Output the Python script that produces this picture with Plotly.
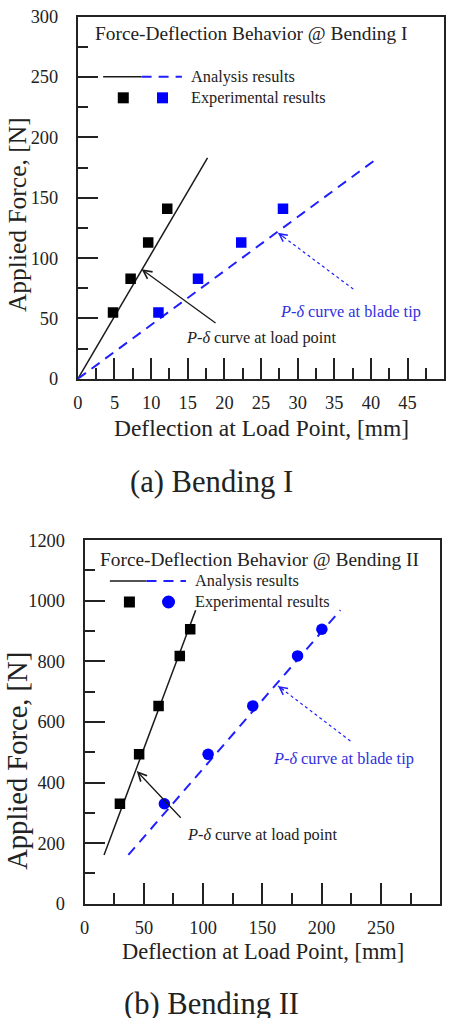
import plotly.graph_objects as go

FONT = "Liberation Serif, 'Times New Roman', Times, serif"
BLACK = "#1a1a1a"
BLUE = "#1f1fff"
BLUE_TXT = "#3030e0"

# ---------------- Bending I data ----------------
b1_exp_load_x = [4.8, 7.2, 9.6, 12.2]
b1_exp_load_y = [55, 83, 113, 141]
b1_exp_tip_x = [11.0, 16.4, 22.3, 28.0]
b1_exp_tip_y = [55, 83, 113, 141]
b1_ana_load_x = [0, 17.7]
b1_ana_load_y = [0, 183]
b1_ana_tip_x = [0, 40.5]
b1_ana_tip_y = [0, 181]

# ---------------- Bending II data ----------------
b2_exp_load_x = [29.8, 46.0, 62.4, 80.3, 89.1]
b2_exp_load_y = [330, 493, 653, 818, 906]
b2_exp_tip_x = [67.3, 104.2, 141.9, 179.7, 200.2]
b2_exp_tip_y = [330, 493, 653, 818, 906]
b2_ana_load_x = [16.4, 93.7]
b2_ana_load_y = [161, 969]
b2_ana_tip_x = [36.9, 215.8]
b2_ana_tip_y = [161, 969]

# annotation arrows: (head_x, head_y, tail_x, tail_y)
b1_load_arrow = (8.7, 90.8, 19.0, 45.3)
b1_tip_arrow = (27.3, 121.0, 37.6, 74.3)
b2_load_arrow = (44.0, 438.0, 82.3, 279.0)
b2_tip_arrow = (163.2, 719.0, 224.3, 537.0)
# annotation text anchors (left x, middle y)
b1_load_text = (14.5, 34.0)
b1_tip_text = (27.3, 56.0)
b2_load_text = (84.7, 227.0)
b2_tip_text = (157.6, 480.0)

titles = ["Force-Deflection Behavior @ Bending I", "Force-Deflection Behavior @ Bending II"]
captions = ["(a) Bending I", "(b) Bending II"]
xlabel = "Deflection at Load Point, [mm]"
ylabel = "Applied Force, [N]"

W = 452.0
H = 1018.0
# observed page -> screenshot mapping: x' = 0.98*x + 7.8, y' = 0.98*y + 9.3
SC, OX, OY = 0.98, 7.8, 9.3
FS = 1.02  # font compensation for the shrink

def px(xr):
    return min((xr - OX) / SC, W - 0.5) / W

def py(yr):
    return 1 - ((yr - OY) / SC) / H

fig = go.Figure()

def add_lines(xa, ya, lx, ly, tx, ty):
    fig.add_trace(go.Scatter(x=lx, y=ly, mode="lines", xaxis=xa, yaxis=ya,
                             line=dict(color=BLACK, width=1.5), showlegend=False))
    fig.add_trace(go.Scatter(x=tx, y=ty, mode="lines", xaxis=xa, yaxis=ya,
                             line=dict(color=BLUE, width=2, dash="10px,7px"), showlegend=False))

def add_markers(xa, ya, x, y, color, symbol, size):
    fig.add_trace(go.Scatter(x=x, y=y, mode="markers", xaxis=xa, yaxis=ya,
                             marker=dict(color=color, symbol=symbol, size=size, line=dict(width=0)),
                             showlegend=False))

add_lines("x", "y", b1_ana_load_x, b1_ana_load_y, b1_ana_tip_x, b1_ana_tip_y)
add_markers("x", "y", b1_exp_load_x, b1_exp_load_y, "black", "square", 10.5)
add_markers("x", "y", b1_exp_tip_x, b1_exp_tip_y, "#0000ff", "square", 10.5)

add_lines("x2", "y2", b2_ana_load_x, b2_ana_load_y, b2_ana_tip_x, b2_ana_tip_y)
add_markers("x2", "y2", b2_exp_load_x, b2_exp_load_y, "black", "square", 10.5)
add_markers("x2", "y2", b2_exp_tip_x, b2_exp_tip_y, "#0000ff", "circle", 11.5)

def axis(domain, rng, dtick, minor_dtick, standoff):
    return dict(domain=domain, range=rng, dtick=dtick, tick0=0,
                ticks="inside", ticklen=20.5, tickwidth=2, tickcolor="#222",
                minor=dict(dtick=minor_dtick, tick0=0, ticks="inside", ticklen=10.5,
                           tickwidth=1.5, tickcolor="#222"),
                showline=True, linecolor="#222", linewidth=2, mirror=True,
                showgrid=False, zeroline=False,
                tickfont=dict(family=FONT, size=18 * FS, color="#222"),
                ticklabelstandoff=standoff, fixedrange=True)

fig.update_layout(
    width=452, height=1018, autosize=False,
    margin=dict(l=0, r=0, t=0, b=0),
    paper_bgcolor="white", plot_bgcolor="white",
    xaxis=dict(axis([px(80), px(443)], [0, 50], 5, 2.5, 6), anchor="y"),
    yaxis=dict(axis([py(378), py(16)], [0, 300], 50, 25, 14), anchor="x"),
    xaxis2=dict(axis([px(86.7), px(439)], [0, 300], 50, 25, 6), anchor="y2"),
    yaxis2=dict(axis([py(902.7), py(539.3)], [0, 1200], 200, 100, 14), anchor="x2"),
)

ann = []
shapes = []

def arrow(xa, ya, a, color, dotted=False):
    hx, hy, tx, ty = a
    if dotted:
        shapes.append(dict(type="line", xref=xa, yref=ya, x0=tx, y0=ty, x1=hx, y1=hy,
                           line=dict(color=color, width=1.2, dash="dot")))
        sx = hx + (tx - hx) * 0.1
        sy = hy + (ty - hy) * 0.1
        ann.append(dict(x=hx, y=hy, ax=sx, ay=sy, xref=xa, yref=ya, axref=xa, ayref=ya,
                        text="", showarrow=True, arrowhead=5, arrowsize=1.4,
                        arrowwidth=1.1, arrowcolor=color))
    else:
        ann.append(dict(x=hx, y=hy, ax=tx, ay=ty, xref=xa, yref=ya, axref=xa, ayref=ya,
                        text="", showarrow=True, arrowhead=5, arrowsize=1.3,
                        arrowwidth=1.3, arrowcolor=color))

def label(xa, ya, pos, color):
    ann.append(dict(x=pos[0], y=pos[1], xref=xa, yref=ya, xanchor="left", yanchor="middle",
                    showarrow=False,
                    text=("<i>P-δ</i> curve at load point" if color == "#222" else "<i>P-δ</i> curve at blade tip"),
                    font=dict(family=FONT, size=16 * FS, color=color)))

arrow("x", "y", b1_load_arrow, BLACK)
arrow("x", "y", b1_tip_arrow, BLUE, dotted=True)
label("x", "y", b1_load_text, "#222")
label("x", "y", b1_tip_text, BLUE_TXT)
arrow("x2", "y2", b2_load_arrow, BLACK)
arrow("x2", "y2", b2_tip_arrow, BLUE, dotted=True)
label("x2", "y2", b2_load_text, "#222")
label("x2", "y2", b2_tip_text, BLUE_TXT)

# in-plot title and legend (domain coordinates)
legend_cfg = [
    ("x", "y", 0.041, 0.953, 0.834, 0.069, 0.174, 0.284, 0.776, 0.124, 0.231, 0.303, "square"),
    ("x2", "y2", 0.038, 0.948, 0.888, 0.071, 0.174, 0.285, 0.830, 0.126, 0.236, 0.305, "circle"),
]
for i, (xa, ya, tx, ty, ly, lx0, lx1, lx2, sy, sbx, sux, txx, sym) in enumerate(legend_cfg):
    xd, yd = xa + " domain", ya + " domain"
    ann.append(dict(x=tx, y=ty, xref=xd, yref=yd, xanchor="left", yanchor="middle",
                    showarrow=False, text=titles[i], font=dict(family=FONT, size=19 * FS, color="#222")))
    shapes.append(dict(type="line", xref=xd, yref=yd, x0=lx0, x1=lx1, y0=ly, y1=ly,
                       line=dict(color=BLACK, width=1.5)))
    shapes.append(dict(type="line", xref=xd, yref=yd, x0=lx1, x1=lx2, y0=ly, y1=ly,
                       line=dict(color=BLUE, width=2, dash="10px,7px")))
    shapes.append(dict(type="rect", xref=xd, yref=yd, xsizemode="pixel", ysizemode="pixel",
                       xanchor=sbx, yanchor=sy, x0=-5.5, x1=5.5, y0=-5.5, y1=5.5,
                       fillcolor="black", line=dict(width=0)))
    if sym == "square":
        shapes.append(dict(type="rect", xref=xd, yref=yd, xsizemode="pixel", ysizemode="pixel",
                           xanchor=sux, yanchor=sy, x0=-5.5, x1=5.5, y0=-5.5, y1=5.5,
                           fillcolor="#0000ff", line=dict(width=0)))
    else:
        shapes.append(dict(type="circle", xref=xd, yref=yd, xsizemode="pixel", ysizemode="pixel",
                           xanchor=sux, yanchor=sy, x0=-6.5, x1=6.5, y0=-6.5, y1=6.5,
                           fillcolor="#0000ff", line=dict(width=0)))
    ann.append(dict(x=txx, y=ly, xref=xd, yref=yd, xanchor="left", yanchor="middle",
                    showarrow=False, text="Analysis results", font=dict(family=FONT, size=16 * FS, color="#222")))
    ann.append(dict(x=txx, y=sy, xref=xd, yref=yd, xanchor="left", yanchor="middle",
                    showarrow=False, text="Experimental results", font=dict(family=FONT, size=16 * FS, color="#222")))

# axis titles and captions (paper coordinates, given in reference pixels)
paper_text = [
    (261.5, 426.7, xlabel, 23, 0),
    (20, 214, ylabel, 25, -90),
    (263, 950.7, xlabel, 22, 0),
    (20.5, 760, ylabel, 28, -90),
    (212, 481, captions[0], 30, 0),
    (212, 1003, captions[1], 30, 0),
]
for x, y, t, s, ang in paper_text:
    ann.append(dict(x=px(x), y=py(y), xref="paper", yref="paper", xanchor="center", yanchor="middle",
                    showarrow=False, text=t, textangle=ang,
                    font=dict(family=FONT, size=s * FS, color="#222")))

fig.update_layout(annotations=ann, shapes=shapes)
fig.write_html("out.html")
